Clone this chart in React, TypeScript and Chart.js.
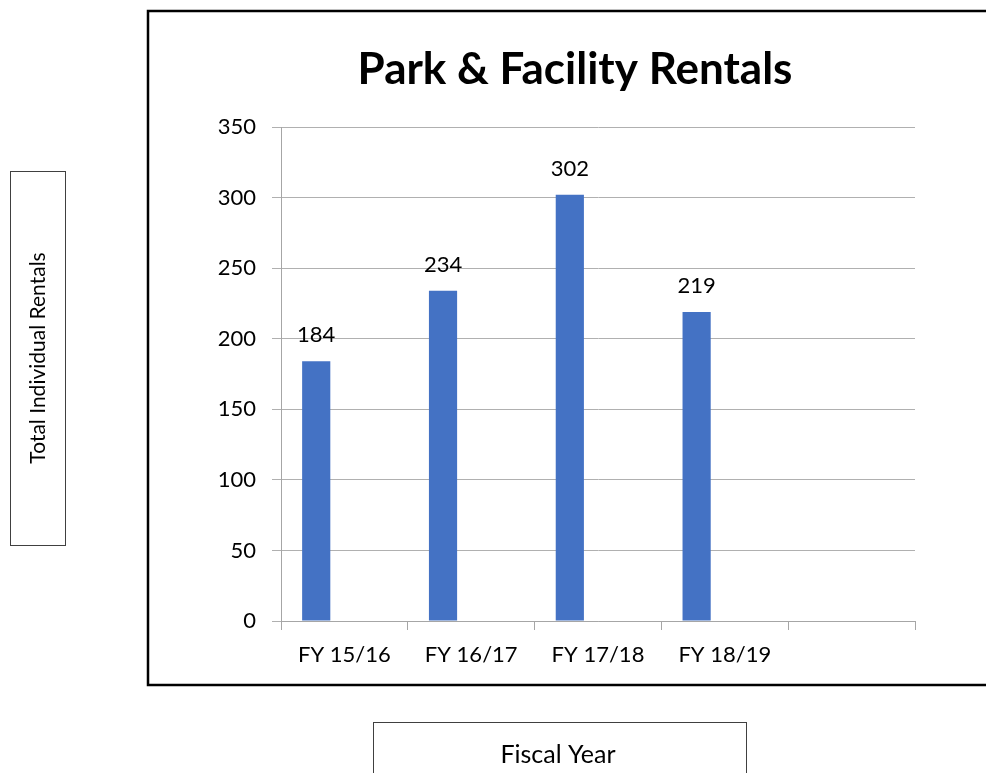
import React, { useEffect, useRef } from "react";
import { Chart, registerables } from "chart.js";

Chart.register(...registerables);

const categories = ["FY 15/16", "FY 16/17", "FY 17/18", "FY 18/19", ""];
const rentals = [184, 234, 302, 219, null];
const emptySeriesA = [null, null, null, null, null];
const emptySeriesB = [null, null, null, null, null];
const yTicks = [0, 50, 100, 150, 200, 250, 300, 350];
const chartTitle = "Park & Facility Rentals";
const yTitle = "Total Individual Rentals";
const xTitle = "Fiscal Year";

const FONT = "Lato, 'Open Sans', sans-serif";

const decorPlugin = {
  id: "decor",
  beforeDraw(chart: any) {
    const ctx = chart.ctx;
    ctx.save();
    ctx.fillStyle = "#ffffff";
    ctx.fillRect(0, 0, chart.width, chart.height);
    // outer chart border
    ctx.strokeStyle = "#000000";
    ctx.lineWidth = 2.5;
    ctx.strokeRect(148, 11, 860, 674);
    // title
    ctx.fillStyle = "#000000";
    ctx.font = `bold 44px ${FONT}`;
    ctx.textAlign = "center";
    ctx.textBaseline = "alphabetic";
    ctx.fillText(chartTitle, 575, 84);
    // y title box
    ctx.lineWidth = 1;
    ctx.strokeStyle = "#404040";
    ctx.strokeRect(10.5, 171.5, 55, 374);
    ctx.save();
    ctx.translate(38, 358);
    ctx.rotate(-Math.PI / 2);
    ctx.textBaseline = "middle";
    ctx.font = `21px ${FONT}`;
    ctx.fillText(yTitle, 0, 0);
    ctx.restore();
    // x title box
    ctx.strokeRect(373.5, 722.5, 373, 60);
    ctx.font = `25px ${FONT}`;
    ctx.textBaseline = "alphabetic";
    ctx.fillText(xTitle, 558, 763);
    ctx.restore();
  },
  afterDatasetsDraw(chart: any) {
    const ctx = chart.ctx;
    const meta = chart.getDatasetMeta(0);
    ctx.save();
    ctx.fillStyle = "#000000";
    ctx.font = `22px ${FONT}`;
    ctx.textAlign = "center";
    ctx.textBaseline = "alphabetic";
    meta.data.forEach((bar: any, i: number) => {
      const v = rentals[i];
      if (v == null) return;
      ctx.fillText(String(v), bar.x, bar.y - 19);
    });
    ctx.restore();
  },
};

export default function App() {
  const ref = useRef<HTMLCanvasElement | null>(null);
  useEffect(() => {
    if (!ref.current) return;
    const chart = new Chart(ref.current, {
      type: "bar",
      data: {
        labels: categories,
        datasets: [
          { data: rentals, backgroundColor: "#4472C4", borderWidth: 0 },
          { data: emptySeriesA, backgroundColor: "#ED7D31", borderWidth: 0 },
          { data: emptySeriesB, backgroundColor: "#A5A5A5", borderWidth: 0 },
        ],
      },
      options: {
        animation: false,
        responsive: false,
        maintainAspectRatio: false,
        layout: { padding: { left: 200, right: 71, top: 127, bottom: 102 } },
        plugins: {
          legend: { display: false },
          title: { display: false },
          tooltip: { enabled: false },
        },
        datasets: {
          bar: { categoryPercentage: 0.6667, barPercentage: 1.0 },
        },
        scales: {
          x: {
            offset: true,
            grid: {
              offset: true,
              drawOnChartArea: false,
              drawTicks: true,
              tickLength: 9,
              color: "#a6a6a6",
            },
            border: { display: true, color: "#a6a6a6", width: 1 },
            ticks: {
              color: "#000000",
              font: { family: FONT, size: 22 },
              padding: 12,
              maxRotation: 0,
              autoSkip: false,
            },
            afterFit(scale: any) {
              scale.height = 50;
            },
          },
          y: {
            min: 0,
            max: 350,
            afterBuildTicks(scale: any) {
              scale.ticks = yTicks.map((v) => ({ value: v }));
            },
            grid: {
              color: "#b0b0b0",
              tickLength: 9,
              drawTicks: true,
            },
            border: { display: true, color: "#a6a6a6", width: 1 },
            ticks: {
              color: "#000000",
              font: { family: FONT, size: 22 },
              padding: 16,
            },
            afterFit(scale: any) {
              scale.width = 81;
            },
          },
        },
      },
      plugins: [decorPlugin],
    });
    return () => chart.destroy();
  }, []);
  return (
    <div style={{ position: "fixed", left: 0, top: 0, width: 986, height: 773, background: "#fff" }}>
      <canvas ref={ref} width={986} height={773} style={{ display: "block" }} />
    </div>
  );
}
